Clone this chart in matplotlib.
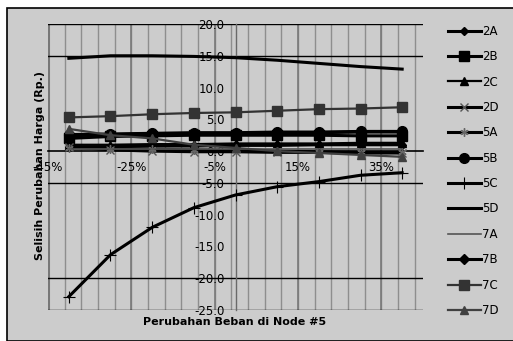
import matplotlib
matplotlib.use("Agg")
import matplotlib.pyplot as plt
from matplotlib.patches import Rectangle
from matplotlib.ticker import FixedLocator

plt.rcParams['font.family'] = ['DejaVu Sans']

# Load change at node #5 (%)
load_change = [-40, -30, -20, -10, 0, 10, 20, 30, 40]

# Price difference per node (Rp.)
s_2A = [0.7, 0.7, 0.8, 0.8, 0.9, 0.9, 1.0, 1.0, 1.0]
s_2B = [2.0, 2.3, 2.4, 2.5, 2.5, 2.5, 2.5, 2.4, 2.4]
s_2C = [1.0, 1.0, 1.1, 1.1, 1.2, 1.2, 1.2, 1.3, 1.3]
s_2D = [0.7, 0.2, 0.0, -0.1, -0.1, -0.2, -0.2, -0.3, -0.3]
s_5A = [0.5, 0.4, 0.3, 0.2, 0.1, 0.0, -0.1, -0.2, -0.2]
s_5B = [2.6, 2.7, 2.8, 2.9, 2.9, 3.0, 3.0, 3.1, 3.1]
s_5C = [-22.9, -16.3, -12.0, -8.9, -6.9, -5.6, -4.8, -3.8, -3.4]
s_5D = [14.6, 15.0, 15.0, 14.9, 14.7, 14.3, 13.8, 13.3, 12.9]
s_7A = [0.4, 0.4, 0.4, 0.4, 0.4, 0.4, 0.4, 0.4, 0.4]
s_7B = [2.4, 2.6, 2.7, 2.8, 2.8, 2.9, 2.9, 3.0, 3.0]
s_7C = [5.3, 5.5, 5.8, 6.0, 6.1, 6.35, 6.6, 6.7, 6.9]
s_7D = [3.5, 2.5, 2.0, 1.0, 0.5, 0.0, -0.3, -0.6, -0.9]

series_names = ['2A', '2B', '2C', '2D', '5A', '5B', '5C', '5D', '7A', '7B', '7C', '7D']
series_vals = [s_2A, s_2B, s_2C, s_2D, s_5A, s_5B, s_5C, s_5D, s_7A, s_7B, s_7C, s_7D]

x_ticks = [-45, -25, -5, 15, 35]
y_ticks = [20, 15, 10, 5, 0, -5, -10, -15, -20, -25]

styles = {
    '2A': dict(color='black', lw=2.2, marker='D', ms=4),
    '2B': dict(color='black', lw=2.2, marker='s', ms=7),
    '2C': dict(color='black', lw=1.6, marker='^', ms=6),
    '2D': dict(color='black', lw=2.2, marker='x', ms=6, mec='#555555'),
    '5A': dict(color='black', lw=2.2, marker=(6, 2, 0), ms=6, mec='#666666'),
    '5B': dict(color='black', lw=2.2, marker='o', ms=7),
    '5C': dict(color='black', lw=2.2, marker='+', ms=8, mew=0.8),
    '5D': dict(color='black', lw=2.2, marker=None),
    '7A': dict(color='#555555', lw=1.2, marker=None),
    '7B': dict(color='black', lw=2.2, marker='D', ms=5),
    '7C': dict(color='#333333', lw=1.6, marker='s', ms=7),
    '7D': dict(color='#404040', lw=1.6, marker='^', ms=6),
}

W, H = 513, 341
fig = plt.figure(figsize=(W / 100, H / 100), dpi=100)
fig.patch.set_facecolor('white')

# chart area background with frame
frame = Rectangle((7 / W, 0), 1, 1 - 8 / H, transform=fig.transFigure,
                  facecolor='#cccccc', edgecolor='black', lw=1.2, zorder=-10)
fig.add_artist(frame)

ax = fig.add_axes([48 / W, 1 - 310 / H, (423 - 48) / W, (310 - 24) / H])
ax.set_facecolor('none')
ax.set_zorder(1)
ax.set_xlim(-45, 45)
ax.set_ylim(-25, 20)

# vertical gridlines: minor every 4 %, major every 20 %
for xv in range(-45, 46, 4):
    ax.axvline(xv, color='#8e8e8e', lw=1.0, zorder=1)
for xv in x_ticks:
    ax.axvline(xv, color='#7a7a7a', lw=1.2, zorder=1)
ax.axvline(-45, color='#777777', lw=2.2, zorder=1)

# horizontal gridlines
for yv in [20, 15, -5, -20, -25]:
    ax.axhline(yv, color='black', lw=1.0, zorder=1)

for name, vals in zip(series_names, series_vals):
    ax.plot(load_change, vals, label=name, zorder=3, **styles[name])

# axes crossing at zero
for side in ['top', 'right']:
    ax.spines[side].set_visible(False)
ax.spines['left'].set_position(('data', 0))
ax.spines['bottom'].set_position(('data', 0))
ax.spines['left'].set_linewidth(1.0)
ax.spines['left'].set_color('#6a6a6a')
ax.spines['bottom'].set_linewidth(1.2)
ax.spines['left'].set_zorder(2)
ax.spines['bottom'].set_zorder(2)

ax.xaxis.set_major_locator(FixedLocator(x_ticks))
ax.set_xticklabels([f'{v}%' for v in x_ticks])
ax.yaxis.set_major_locator(FixedLocator(y_ticks))
ax.set_yticklabels([f'{v:.1f}' for v in y_ticks])
ax.tick_params(axis='both', length=0, labelsize=8.5, colors='black')
ax.tick_params(axis='y', pad=8)
ax.tick_params(axis='x', pad=7)

fig.text(40 / W, 1 - 165 / H, 'Selisih Perubahan Harga (Rp.)', rotation=90,
         ha='center', va='center', fontsize=8, fontweight='bold')
fig.text(235 / W, 1 - 322 / H, 'Perubahan Beban di Node #5',
         ha='center', va='center', fontsize=8, fontweight='bold')

leg = fig.legend(loc='upper left', bbox_to_anchor=(443 / W, 1 - 20 / H),
                 frameon=False, fontsize=8.5, handlelength=2.8, handletextpad=0.1,
                 labelspacing=1.05, borderaxespad=0)

fig.savefig('out.png', dpi=100)
